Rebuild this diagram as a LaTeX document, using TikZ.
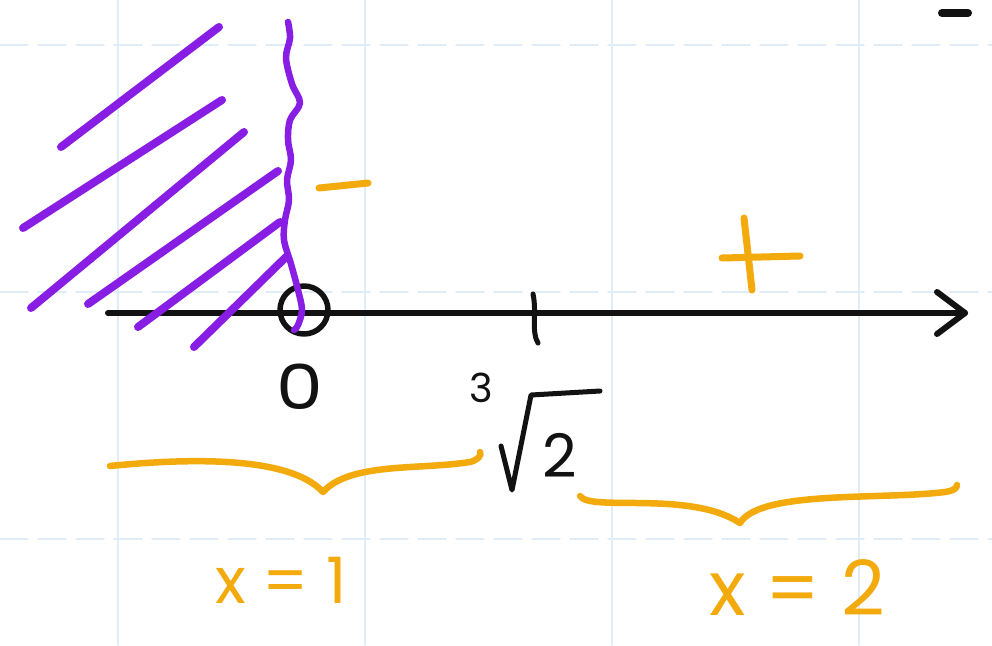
\documentclass[tikz,border=0pt]{standalone}
\usepackage{fontspec}
\setmainfont{Poppins}
\definecolor{gridblue}{RGB}{222,237,248}
\definecolor{pen}{RGB}{18,18,18}
\definecolor{violetpen}{RGB}{136,30,228}
\definecolor{orangepen}{RGB}{243,170,12}
\begin{document}
\begin{tikzpicture}[x=1pt,y=-1pt,line cap=round,line join=round,
  gridline/.style={gridblue,line width=1.6pt},
  ink/.style={pen,line width=6pt},
  hatch/.style={violetpen,line width=8pt},
  marker/.style={orangepen,line width=7pt},
  blacklbl/.style={inner sep=0pt,text=pen},
  orangelbl/.style={inner sep=0pt,text=orangepen}]
\useasboundingbox (0,0) rectangle (992,645);
\fill[white] (0,0) rectangle (992,645);
% grid
\foreach \gx in {118,365,612,859}{\draw[gridline] (\gx,0) -- (\gx,645);}
\foreach \gy in {45,292,539}{\draw[gridline,dash pattern=on 28pt off 10pt] (0,\gy) -- (992,\gy);}
% number line
\coordinate (L) at (108,313);
\coordinate (R) at (965,313);
\coordinate (tipU) at (937,292);
\coordinate (tipD) at (937,334);
\draw[ink] (L) -- (R);
\draw[ink] (tipU) -- (R) -- (tipD);
% open circle at 0
\node[draw=pen,line width=5.5pt,circle,minimum size=48pt,inner sep=0pt] (zero) at (304,310) {};
% tick at cube root of 2
\coordinate (tickT) at (533,294);
\coordinate (tickB) at (538,343);
\draw[ink,line width=5pt] (tickT) .. controls (537,312) and (531,332) .. (tickB);
% labels on the axis
\node[blacklbl,font=\fontsize{62}{62}\selectfont,xscale=1.2] (lab0) at (300,387) {0};
\node[blacklbl,font=\fontsize{40}{40}\selectfont] (three) at (481,388) {3};
\node[blacklbl,font=\fontsize{60}{60}\selectfont] (two) at (560,455) {2};
\coordinate (radA) at (501,446);
\coordinate (radB) at (512,490);
\coordinate (radC) at (531,395);
\coordinate (radD) at (600,391);
\draw[ink,line width=5pt] (radA) -- (radB) -- (radC) -- (radD);
% purple hatching
\draw[hatch] (61,147) -- (219,27);
\draw[hatch] (23,228) -- (222,100);
\draw[hatch] (31,308) -- (244,132);
\draw[hatch] (88,304) -- (278,171);
\draw[hatch] (138,327) -- (280,222);
\draw[hatch] (194,347) -- (286,257);
\draw[hatch,line width=6.5pt] plot[smooth,tension=0.55] coordinates {(288,22) (290,38) (286,58) (292,84) (300,103) (290,120) (288,140) (291,160) (287,180) (289,200) (285,220) (284,240) (291,264) (298,290) (302,310) (298,325) (294,330)};
% signs
\draw[marker] (319,188) -- (368,183);
\draw[marker] (722,258) -- (800,256);
\draw[marker] (744,218) -- (752,290);
\draw[pen,line width=8pt] (942,13) -- (968,13);
% braces
\coordinate (b1s) at (110,466);
\coordinate (b1m) at (323,492);
\coordinate (b1e) at (480,452);
\draw[marker,line width=6.5pt] (b1s) .. controls (190,458) and (290,456) .. (b1m)
  .. controls (350,462) and (420,470) .. (470,462) .. controls (478,460) and (482,455) .. (b1e);
\coordinate (b2s) at (580,496);
\coordinate (b2m) at (740,523);
\coordinate (b2e) at (957,485);
\draw[marker,line width=6.5pt] (b2s) .. controls (590,512) and (690,490) .. (b2m)
  .. controls (760,490) and (880,500) .. (945,492) .. controls (952,491) and (957,489) .. (b2e);
% interval labels
\node[orangelbl,font=\fontsize{64}{64}\selectfont] (x1) at (281,580) {x = 1};
\node[orangelbl,font=\fontsize{76}{76}\selectfont] (x2) at (797,588) {x = 2};
\end{tikzpicture}
\end{document}
